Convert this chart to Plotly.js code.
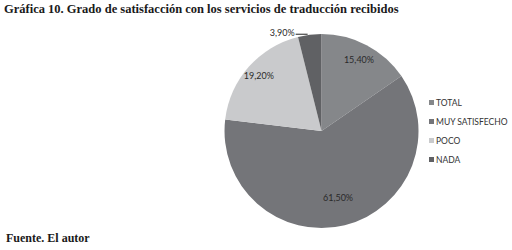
<!DOCTYPE html>
<html><head><meta charset="utf-8">
<script src="https://cdn.plot.ly/plotly-3.0.1.min.js"></script>
<style>html,body{margin:0;padding:0;background:#fff}#chart{width:512px;height:250px}</style>
</head><body><div id="chart"></div>
<script>
const categories = ["TOTAL", "MUY SATISFECHO", "POCO", "NADA"];
const values = [15.4, 61.5, 19.2, 3.9];
const valueLabels = ["15,40%", "61,50%", "19,20%", "3,90%"];
const colors = ["#85878a", "#747579", "#c9cacc", "#606164"];

// label placement style (fraction of radius along each slice's mid-angle)
const labelRadius = [0.83, 0.71, 0.86, 1.06];

const trace = {
  type: "pie",
  labels: categories,
  values: values,
  text: valueLabels,
  textinfo: "text",
  textposition: ["inside", "inside", "inside", "outside"],
  insidetextorientation: "horizontal",
  textfont: {family: "Lato, sans-serif", size: 9, color: "#2a2a2a"},
  marker: {colors: colors, line: {width: 0}},
  sort: false,
  direction: "clockwise",
  rotation: 0,
  hoverinfo: "none",
  domain: {x: [0.4385, 0.8174], y: [0.088, 0.864]}
};

const layout = {
  width: 512, height: 250,
  margin: {l: 0, r: 0, t: 0, b: 0, autoexpand: false},
  paper_bgcolor: "#fff",
  title: {
    text: "<b>Gráfica 10. Grado de satisfacción con los servicios de traducción recibidos</b>",
    font: {family: "Liberation Serif, serif", size: 12.5, color: "#1a1a1a"},
    x: 4/512, xanchor: "left", xref: "paper",
    y: 1 - 9/250, yanchor: "middle", yref: "paper"
  },
  showlegend: true,
  legend: {
    x: 396/512, xanchor: "left", y: 1 - 88/250, yanchor: "top",
    font: {family: "Lato, sans-serif", size: 8.5, color: "#333"},
    bgcolor: "rgba(0,0,0,0)", tracegroupgap: 0
  },
  annotations: [{
    text: "<b>Fuente. El autor</b>",
    xref: "paper", yref: "paper", x: 4/512, y: 1 - 238/250,
    xanchor: "left", yanchor: "middle", showarrow: false,
    font: {family: "Liberation Serif, serif", size: 12, color: "#1a1a1a"}
  }]
};

Plotly.newPlot("chart", [trace], layout, {staticPlot: true, displayModeBar: false}).then(function (gd) {
  const cd = gd.calcdata[0];
  const cx = cd[0].cx + gd._fullLayout._size.l;
  const cy = cd[0].cy + gd._fullLayout._size.t;
  const host = gd.getBoundingClientRect();
  const slices = gd.querySelectorAll("g.slice");
  slices.forEach(function (g, i) {
    const t = g.querySelector("text.slicetext");
    if (!t) return;
    const pt = cd[i];
    const k = labelRadius[i];
    const bb = t.getBoundingClientRect();
    let tx = cx + k * pt.pxmid[0];
    let ty = cy + k * pt.pxmid[1];
    if (i === 3) {
      // outside label sits to the left of a short leader line
      const lineLen = 14;
      const edgeX = cx + pt.pxmid[0];
      const edgeY = cy + pt.pxmid[1];
      const endX = edgeX - lineLen;
      tx = endX - 1 - bb.width / 2;
      ty = edgeY - 2;
      const ns = "http://www.w3.org/2000/svg";
      const p = document.createElementNS(ns, "path");
      p.setAttribute("d", "M" + (endX) + "," + (edgeY - 0.5) + "H" + (edgeX - 2));
      p.setAttribute("stroke", "#222");
      p.setAttribute("stroke-width", "1");
      p.setAttribute("fill", "none");
      const root = gd.querySelector(".main-svg");
      root.appendChild(p);
    }
    const curX = bb.left - host.left + bb.width / 2;
    const curY = bb.top - host.top + bb.height / 2;
    const dx = tx - curX, dy = ty - curY;
    const old = t.getAttribute("transform") || "";
    t.setAttribute("transform", "translate(" + dx + "," + dy + ") " + old);
  });
  gd.querySelectorAll(".legend .legendpoints path").forEach(function (p) {
    p.setAttribute("transform", "translate(35.5,0) scale(0.42)");
    p.style.strokeWidth = "0";
  });
});
</script></body></html>
